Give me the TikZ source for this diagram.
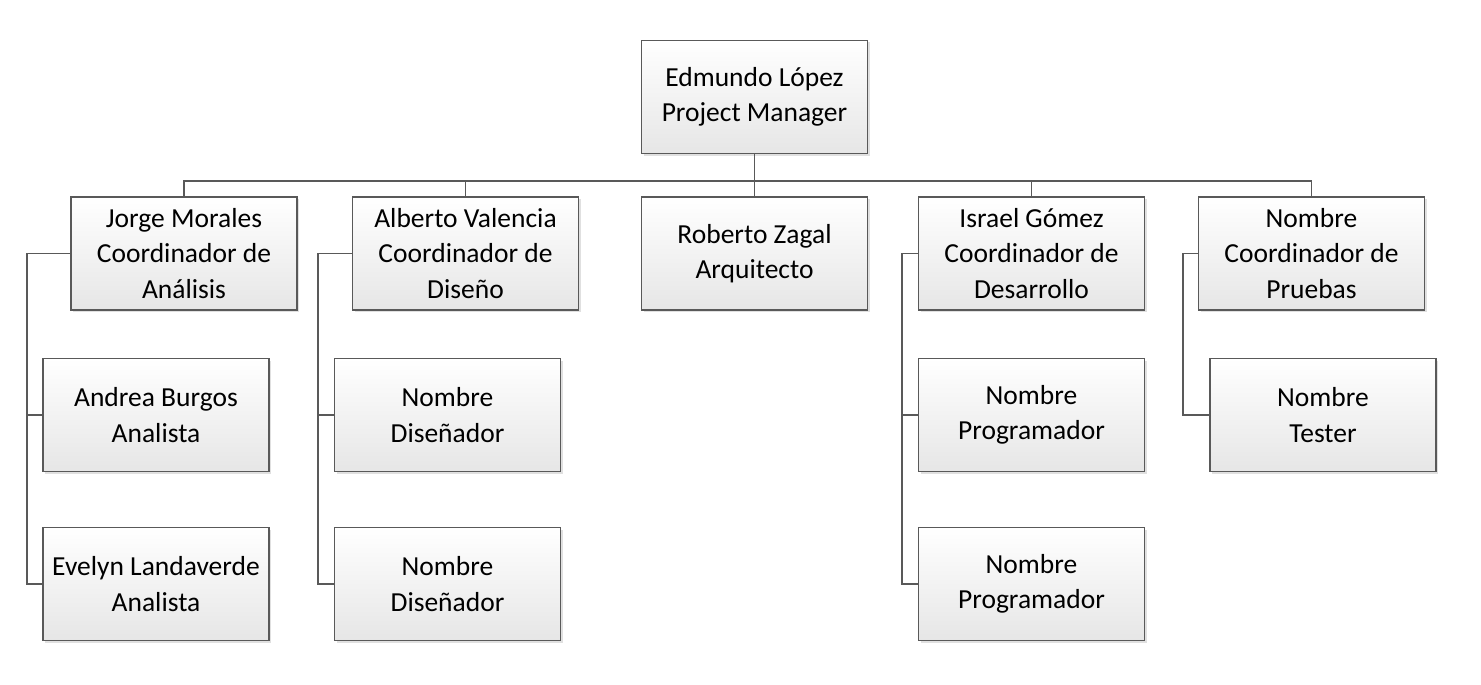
\documentclass[tikz,border=0pt]{standalone}
\usepackage{fontspec}
\setmainfont{Carlito}
\usetikzlibrary{shadows}
\definecolor{linegray}{HTML}{595959}
\definecolor{boxbot}{HTML}{E6E6E6}
\tikzset{
  orgbox/.style={draw=linegray, line width=1.8pt, top color=white, bottom color=boxbot,
    minimum width=226pt, minimum height=113pt, inner sep=0pt, align=center,
    font=\fontsize{27.5}{35.5}\selectfont,
    drop shadow={shadow xshift=2pt, shadow yshift=-2pt, opacity=0.12, fill=black}},
  conn/.style={draw=linegray, line width=1.8pt}
}
\begin{document}
\begin{tikzpicture}[x=1pt,y=-1pt]
\useasboundingbox (0,0) rectangle (1481,685);
\node[orgbox] (pm) at (754.5,97) {Edmundo López\\Project Manager};
\node[orgbox] (jorge) at (184,253.5) {Jorge Morales\\Coordinador de\\Análisis};
\node[orgbox] (alberto) at (465.5,253.5) {Alberto Valencia\\Coordinador de\\Diseño};
\node[orgbox] (roberto) at (754.5,253.5) {Roberto Zagal\\Arquitecto};
\node[orgbox] (israel) at (1031.5,253.5) {Israel Gómez\\Coordinador de\\Desarrollo};
\node[orgbox] (pruebas) at (1311.5,253.5) {Nombre\\Coordinador de\\Pruebas};
\node[orgbox] (andrea) at (156,415) {Andrea Burgos\\Analista};
\node[orgbox] (evelyn) at (156,584) {Evelyn Landaverde\\Analista};
\node[orgbox] (dis1) at (447.5,415) {Nombre\\Diseñador};
\node[orgbox] (dis2) at (447.5,584) {Nombre\\Diseñador};
\node[orgbox] (prog1) at (1031.5,415) {Nombre\\Programador};
\node[orgbox] (prog2) at (1031.5,584) {Nombre\\Programador};
\node[orgbox] (tester) at (1323,415) {Nombre\\Tester};
\coordinate (busy) at (0,181);
\draw[conn] (pm.south) -- (pm.south |- busy);
\draw[conn] (jorge.north) -- (jorge.north |- busy) -- (pruebas.north |- busy) -- (pruebas.north);
\draw[conn] (alberto.north) -- (alberto.north |- busy);
\draw[conn] (roberto.north) -- (roberto.north |- busy);
\draw[conn] (israel.north) -- (israel.north |- busy);
\coordinate (aL) at (27,0);
\coordinate (bL) at (318,0);
\coordinate (cL) at (902,0);
\coordinate (dL) at (1183,0);
\draw[conn] (jorge.west) -- (jorge.west -| aL) -- (evelyn.west -| aL) -- (evelyn.west);
\draw[conn] (andrea.west -| aL) -- (andrea.west);
\draw[conn] (alberto.west) -- (alberto.west -| bL) -- (dis2.west -| bL) -- (dis2.west);
\draw[conn] (dis1.west -| bL) -- (dis1.west);
\draw[conn] (israel.west) -- (israel.west -| cL) -- (prog2.west -| cL) -- (prog2.west);
\draw[conn] (prog1.west -| cL) -- (prog1.west);
\draw[conn] (pruebas.west) -- (pruebas.west -| dL) -- (tester.west -| dL) -- (tester.west);
\end{tikzpicture}
\end{document}
